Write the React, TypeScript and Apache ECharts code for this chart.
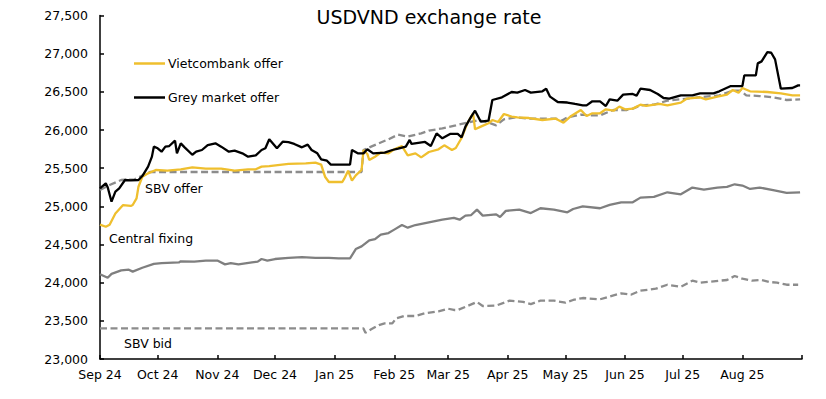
import React, { useEffect, useRef } from "react";
import * as echarts from "echarts";

const TITLE = "USDVND exchange rate";
const MONTHS = ["Jan", "Feb", "Mar", "Apr", "May", "Jun", "Jul", "Aug", "Sep", "Oct", "Nov", "Dec"];
const X_MIN = "2024-09-01";
const X_MAX = "2025-09-01";
const Y_MIN = 23000;
const Y_MAX = 27500;
const Y_STEP = 500;

const vietcombankOffer: [string, number][] = [
  ["2024-09-01", 24760], ["2024-09-04", 24733], ["2024-09-06", 24760], ["2024-09-09", 24907],
  ["2024-09-13", 25017], ["2024-09-17", 25005], ["2024-09-18", 25017], ["2024-09-20", 25105],
  ["2024-09-21", 25257], ["2024-09-23", 25388], ["2024-09-26", 25432], ["2024-09-30", 25476],
  ["2024-10-06", 25467], ["2024-10-13", 25485], ["2024-10-19", 25511], ["2024-10-26", 25493],
  ["2024-11-03", 25493], ["2024-11-10", 25467], ["2024-11-17", 25485], ["2024-11-21", 25485],
  ["2024-11-24", 25520], ["2024-11-28", 25528], ["2024-12-08", 25555], ["2024-12-17", 25563],
  ["2024-12-22", 25572], ["2024-12-25", 25546], ["2024-12-27", 25388], ["2024-12-29", 25319],
  ["2025-01-05", 25319], ["2025-01-06", 25362], ["2025-01-08", 25467], ["2025-01-10", 25336],
  ["2025-01-12", 25406], ["2025-01-15", 25476], ["2025-01-16", 25738], ["2025-01-18", 25686],
  ["2025-01-19", 25607], ["2025-01-22", 25650], ["2025-01-25", 25703], ["2025-01-29", 25694],
  ["2025-02-01", 25747], ["2025-02-05", 25790], ["2025-02-08", 25668], ["2025-02-12", 25694],
  ["2025-02-15", 25642], ["2025-02-19", 25712], ["2025-02-24", 25747], ["2025-02-27", 25799],
  ["2025-03-03", 25738], ["2025-03-05", 25764], ["2025-03-08", 25895], ["2025-03-11", 26088],
  ["2025-03-14", 26219], ["2025-03-15", 26009], ["2025-03-18", 26044], ["2025-03-22", 26088],
  ["2025-03-24", 26131], ["2025-03-27", 26105], ["2025-03-30", 26210], ["2025-04-03", 26175],
  ["2025-04-06", 26166], ["2025-04-12", 26157], ["2025-04-19", 26131], ["2025-04-26", 26148],
  ["2025-04-30", 26096], ["2025-05-04", 26184], ["2025-05-09", 26262], ["2025-05-12", 26184],
  ["2025-05-15", 26219], ["2025-05-19", 26219], ["2025-05-22", 26271], ["2025-05-26", 26253],
  ["2025-05-29", 26306], ["2025-06-01", 26271], ["2025-06-05", 26280], ["2025-06-09", 26332],
  ["2025-06-12", 26315], ["2025-06-19", 26341], ["2025-06-23", 26323], ["2025-06-30", 26358],
  ["2025-07-03", 26410], ["2025-07-10", 26428], ["2025-07-13", 26402], ["2025-07-19", 26437],
  ["2025-07-24", 26463], ["2025-07-27", 26524], ["2025-07-30", 26489], ["2025-08-01", 26550],
  ["2025-08-05", 26507], ["2025-08-14", 26498], ["2025-08-21", 26480], ["2025-08-27", 26454],
  ["2025-08-31", 26454],
];

const greyMarketOffer: [string, number][] = [
  ["2024-09-01", 25236], ["2024-09-04", 25301], ["2024-09-05", 25250], ["2024-09-07", 25061],
  ["2024-09-09", 25192], ["2024-09-11", 25236], ["2024-09-14", 25345], ["2024-09-17", 25340],
  ["2024-09-21", 25345], ["2024-09-23", 25397], ["2024-09-26", 25520], ["2024-09-28", 25651],
  ["2024-09-29", 25782], ["2024-10-01", 25760], ["2024-10-03", 25716], ["2024-10-05", 25782],
  ["2024-10-07", 25790], ["2024-10-10", 25860], ["2024-10-11", 25694], ["2024-10-13", 25825],
  ["2024-10-15", 25773], ["2024-10-19", 25676], ["2024-10-21", 25716], ["2024-10-24", 25738],
  ["2024-10-27", 25803], ["2024-10-31", 25825], ["2024-11-03", 25782], ["2024-11-07", 25716],
  ["2024-11-10", 25729], ["2024-11-14", 25694], ["2024-11-17", 25650], ["2024-11-21", 25668],
  ["2024-11-24", 25738], ["2024-11-26", 25760], ["2024-11-28", 25878], ["2024-12-02", 25760],
  ["2024-12-05", 25847], ["2024-12-08", 25840], ["2024-12-11", 25817], ["2024-12-15", 25773],
  ["2024-12-18", 25808], ["2024-12-20", 25738], ["2024-12-23", 25694], ["2024-12-25", 25616],
  ["2024-12-28", 25598], ["2024-12-30", 25546], ["2025-01-09", 25546], ["2025-01-10", 25738],
  ["2025-01-13", 25694], ["2025-01-16", 25694], ["2025-01-18", 25747], ["2025-01-21", 25694],
  ["2025-01-27", 25703], ["2025-01-31", 25738], ["2025-02-03", 25755], ["2025-02-07", 25782],
  ["2025-02-09", 25870], ["2025-02-10", 25817], ["2025-02-17", 25843], ["2025-02-20", 25790],
  ["2025-02-23", 25956], ["2025-02-26", 25891], ["2025-03-02", 25948], ["2025-03-06", 25948],
  ["2025-03-08", 25904], ["2025-03-10", 26044], ["2025-03-13", 26175], ["2025-03-15", 26253],
  ["2025-03-18", 26109], ["2025-03-22", 26122], ["2025-03-24", 26393], ["2025-03-29", 26428],
  ["2025-04-03", 26498], ["2025-04-06", 26490], ["2025-04-10", 26524], ["2025-04-13", 26490],
  ["2025-04-19", 26507], ["2025-04-21", 26541], ["2025-04-23", 26437], ["2025-04-27", 26367],
  ["2025-05-02", 26360], ["2025-05-06", 26341], ["2025-05-10", 26323], ["2025-05-12", 26323],
  ["2025-05-15", 26376], ["2025-05-19", 26376], ["2025-05-22", 26314], ["2025-05-24", 26402],
  ["2025-05-28", 26384], ["2025-05-31", 26463], ["2025-06-05", 26472], ["2025-06-07", 26450],
  ["2025-06-09", 26541], ["2025-06-14", 26524], ["2025-06-18", 26472], ["2025-06-21", 26419],
  ["2025-06-24", 26410], ["2025-06-30", 26454], ["2025-07-06", 26454], ["2025-07-10", 26480],
  ["2025-07-17", 26480], ["2025-07-20", 26507], ["2025-07-26", 26576], ["2025-08-01", 26576],
  ["2025-08-02", 26716], ["2025-08-08", 26716], ["2025-08-09", 26873], ["2025-08-11", 26899],
  ["2025-08-14", 27021], ["2025-08-16", 27012], ["2025-08-18", 26925], ["2025-08-21", 26541],
  ["2025-08-27", 26550], ["2025-08-30", 26585], ["2025-08-31", 26585],
];

const sbvOffer: [string, number][] = [
  ["2024-09-01", 25214], ["2024-09-06", 25279], ["2024-09-12", 25345], ["2024-09-19", 25354],
  ["2024-09-27", 25450], ["2025-01-15", 25450], ["2025-01-16", 25738], ["2025-01-24", 25826],
  ["2025-01-29", 25878], ["2025-02-03", 25939], ["2025-02-08", 25913], ["2025-02-15", 25956],
  ["2025-02-19", 25991], ["2025-02-26", 26022], ["2025-03-05", 26061], ["2025-03-11", 26096],
  ["2025-03-17", 26131], ["2025-03-22", 26096], ["2025-03-26", 26061], ["2025-03-30", 26140],
  ["2025-04-05", 26166], ["2025-04-12", 26148], ["2025-04-26", 26148], ["2025-04-29", 26122],
  ["2025-05-02", 26166], ["2025-05-09", 26201], ["2025-05-14", 26192], ["2025-05-19", 26192],
  ["2025-05-26", 26262], ["2025-06-02", 26262], ["2025-06-05", 26279], ["2025-06-09", 26323],
  ["2025-06-16", 26332], ["2025-06-23", 26384], ["2025-06-30", 26402], ["2025-07-06", 26419],
  ["2025-07-13", 26437], ["2025-07-20", 26454], ["2025-07-27", 26515], ["2025-07-31", 26515],
  ["2025-08-03", 26454], ["2025-08-10", 26445], ["2025-08-17", 26428], ["2025-08-24", 26393],
  ["2025-08-31", 26402],
];

const centralFixing: [string, number][] = [
  ["2024-09-01", 24110], ["2024-09-05", 24065], ["2024-09-07", 24115], ["2024-09-12", 24160],
  ["2024-09-16", 24170], ["2024-09-18", 24145], ["2024-09-23", 24195], ["2024-09-29", 24245],
  ["2024-10-03", 24255], ["2024-10-12", 24265], ["2024-10-13", 24280], ["2024-10-20", 24275],
  ["2024-10-26", 24290], ["2024-11-01", 24290], ["2024-11-05", 24240], ["2024-11-08", 24255],
  ["2024-11-12", 24240], ["2024-11-19", 24265], ["2024-11-22", 24275], ["2024-11-24", 24310],
  ["2024-11-27", 24290], ["2024-12-01", 24310], ["2024-12-08", 24325], ["2024-12-15", 24335],
  ["2024-12-22", 24325], ["2024-12-29", 24325], ["2025-01-03", 24318], ["2025-01-09", 24318],
  ["2025-01-12", 24440], ["2025-01-15", 24475], ["2025-01-19", 24555], ["2025-01-22", 24570],
  ["2025-01-25", 24630], ["2025-01-29", 24650], ["2025-02-01", 24695], ["2025-02-05", 24755],
  ["2025-02-08", 24720], ["2025-02-12", 24755], ["2025-02-19", 24790], ["2025-02-26", 24825],
  ["2025-03-04", 24850], ["2025-03-07", 24825], ["2025-03-10", 24878], ["2025-03-13", 24886],
  ["2025-03-16", 24957], ["2025-03-19", 24878], ["2025-03-26", 24895], ["2025-03-28", 24860],
  ["2025-03-31", 24940], ["2025-04-07", 24957], ["2025-04-13", 24912], ["2025-04-18", 24975],
  ["2025-04-25", 24957], ["2025-05-02", 24921], ["2025-05-05", 24965], ["2025-05-10", 25000],
  ["2025-05-19", 24975], ["2025-05-24", 25018], ["2025-05-30", 25053], ["2025-06-05", 25053],
  ["2025-06-09", 25114], ["2025-06-16", 25123], ["2025-06-23", 25184], ["2025-06-30", 25158],
  ["2025-07-06", 25246], ["2025-07-12", 25219], ["2025-07-19", 25246], ["2025-07-24", 25254],
  ["2025-07-28", 25289], ["2025-08-01", 25272], ["2025-08-05", 25228], ["2025-08-10", 25246],
  ["2025-08-17", 25211], ["2025-08-24", 25175], ["2025-08-31", 25184],
];

const sbvBid: [string, number][] = [
  ["2024-09-01", 23400], ["2025-01-16", 23400], ["2025-01-17", 23345], ["2025-01-20", 23390],
  ["2025-01-24", 23445], ["2025-01-27", 23467], ["2025-01-31", 23467], ["2025-02-02", 23533],
  ["2025-02-06", 23563], ["2025-02-12", 23563], ["2025-02-17", 23599], ["2025-02-24", 23625],
  ["2025-03-01", 23659], ["2025-03-04", 23642], ["2025-03-06", 23642], ["2025-03-11", 23694],
  ["2025-03-16", 23747], ["2025-03-19", 23694], ["2025-03-26", 23700], ["2025-04-02", 23764],
  ["2025-04-09", 23747], ["2025-04-13", 23720], ["2025-04-18", 23764], ["2025-04-25", 23764],
  ["2025-05-01", 23738], ["2025-05-05", 23773], ["2025-05-10", 23799], ["2025-05-19", 23782],
  ["2025-05-26", 23834], ["2025-05-30", 23860], ["2025-06-04", 23842], ["2025-06-09", 23895],
  ["2025-06-17", 23921], ["2025-06-23", 23973], ["2025-06-30", 23947], ["2025-07-06", 24026],
  ["2025-07-10", 24000], ["2025-07-17", 24018], ["2025-07-24", 24035], ["2025-07-28", 24087],
  ["2025-08-01", 24052], ["2025-08-06", 24026], ["2025-08-11", 24035], ["2025-08-15", 24009],
  ["2025-08-19", 24000], ["2025-08-24", 23973], ["2025-08-30", 23973],
];

const FONT = "DejaVu Sans";
const YELLOW = "#EFBF2E";
const GREY_SOLID = "#7F7F7F";
const GREY_DASH = "#8C8C8C";

export default function App() {
  const ref = useRef<HTMLDivElement>(null);
  useEffect(() => {
    if (!ref.current) return;
    const chart = echarts.init(ref.current, null, { renderer: "svg" });
    const lineSeries = (name: string, data: [string, number][], color: string, dashed: boolean, z: number) => ({
      name,
      type: "line",
      data,
      showSymbol: false,
      symbol: "none",
      z,
      lineStyle: { color, width: 2.3, type: dashed ? [7, 3.5] : "solid" },
      itemStyle: { color },
    });
    chart.setOption({
      animation: false,
      backgroundColor: "#ffffff",
      textStyle: { fontFamily: FONT },
      title: {
        text: TITLE,
        left: 429,
        textAlign: "center",
        top: 7,
        padding: 0,
        textStyle: { fontFamily: FONT, fontSize: 19, fontWeight: "normal", color: "#000" },
      },
      legend: {
        data: ["Vietcombank offer", "Grey market offer"],
        orient: "vertical",
        left: 134,
        top: 57,
        padding: 0,
        itemGap: 21,
        itemWidth: 31,
        itemHeight: 2.5,
        icon: "rect",
        textStyle: { fontFamily: FONT, fontSize: 12.5, color: "#000", padding: [0, 0, 0, -2] },
      },
      grid: { left: 100, right: 24, top: 15.5, bottom: 40, containLabel: false },
      xAxis: {
        type: "time",
        min: X_MIN,
        max: X_MAX,
        splitNumber: 12,
        minInterval: 28 * 86400000,
        maxInterval: 31 * 86400000,
        axisLine: { show: true, lineStyle: { color: "#000", width: 1.5 } },
        axisTick: { show: true, inside: true, length: 4, lineStyle: { color: "#000", width: 1.5 } },
        splitLine: { show: false },
        axisLabel: {
          color: "#000",
          fontFamily: FONT,
          fontSize: 12.5,
          margin: 9,
          hideOverlap: false,
          formatter: (v: number) => {
            const d = new Date(v);
            if (d.getTime() >= new Date(2025, 8, 1).getTime() - 86400000) return "";
            return MONTHS[d.getMonth()] + " " + String(d.getFullYear()).slice(2);
          },
        },
      },
      yAxis: {
        type: "value",
        min: Y_MIN,
        max: Y_MAX,
        interval: Y_STEP,
        axisLine: { show: true, lineStyle: { color: "#000", width: 1.5 } },
        axisTick: { show: true, inside: true, length: 4, lineStyle: { color: "#000", width: 1.5 } },
        splitLine: { show: false },
        axisLabel: {
          color: "#000",
          fontFamily: FONT,
          fontSize: 12.5,
          margin: 12,
          formatter: (v: number) => v.toLocaleString("en-US"),
        },
      },
      graphic: [
        { type: "text", left: 145, top: 182, style: { text: "SBV offer", fontFamily: FONT, fontSize: 12.5, fill: "#000" } },
        { type: "text", left: 109, top: 232, style: { text: "Central fixing", fontFamily: FONT, fontSize: 12.5, fill: "#000" } },
        { type: "text", left: 124, top: 337, style: { text: "SBV bid", fontFamily: FONT, fontSize: 12.5, fill: "#000" } },
      ],
      series: [
        lineSeries("SBV bid", sbvBid, GREY_DASH, true, 2),
        lineSeries("Central fixing", centralFixing, GREY_SOLID, false, 2),
        lineSeries("SBV offer", sbvOffer, GREY_DASH, true, 3),
        lineSeries("Vietcombank offer", vietcombankOffer, YELLOW, false, 4),
        lineSeries("Grey market offer", greyMarketOffer, "#000000", false, 5),
      ],
    });
    return () => chart.dispose();
  }, []);
  return (
    <div
      ref={ref}
      style={{ position: "absolute", left: 0, top: 0, width: 826, height: 399, background: "#fff" }}
    />
  );
}
